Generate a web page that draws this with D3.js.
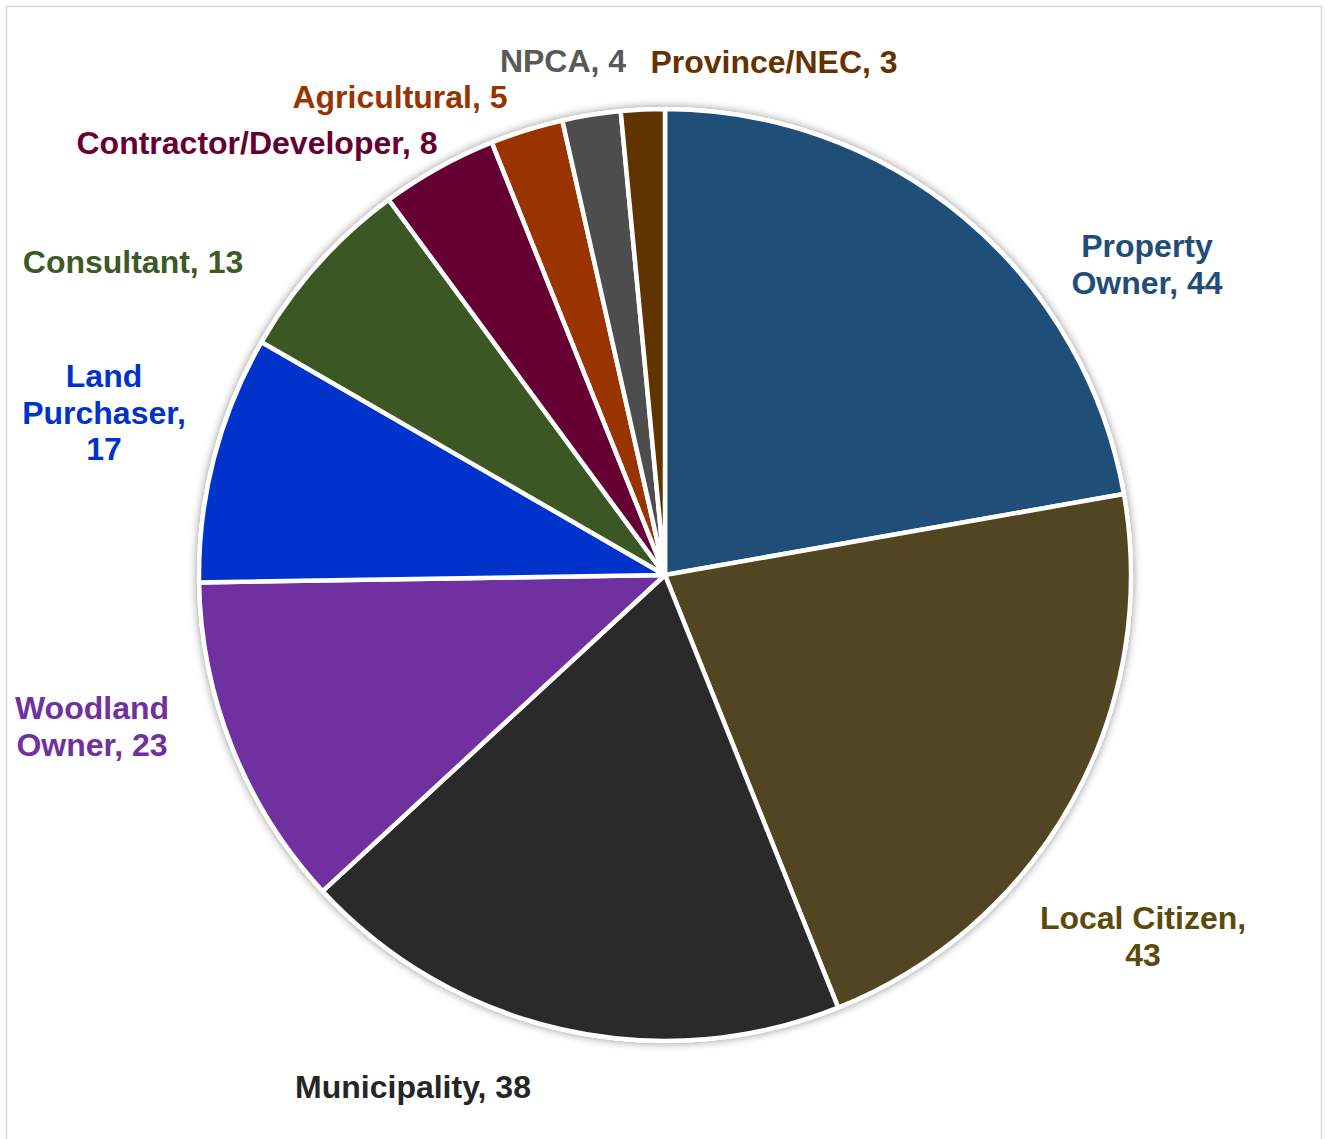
<!DOCTYPE html>
<html lang="en">
<head>
<meta charset="UTF-8" />
<title>Client Types</title>
<script src="https://cdn.jsdelivr.net/npm/d3@7"></script>
<style>
  html, body { margin: 0; padding: 0; background: #fff; }
  svg { display: block; }
  .lbl { font-family: "Liberation Sans", Arial, sans-serif; font-weight: bold; font-size: 32px; }
</style>
</head>
<body>
<div id="chart"></div>
<script>
// data
const categories = ["Property Owner", "Local Citizen", "Municipality", "Woodland Owner", "Land Purchaser",
                    "Consultant", "Contractor/Developer", "Agricultural", "NPCA", "Province/NEC"];
const counts = [44, 43, 38, 23, 17, 13, 8, 5, 4, 3];
const sliceColors = ["#1F4E79", "#524522", "#2A2A2A", "#7030A0", "#0033CC",
                     "#3A5724", "#660033", "#993300", "#4D4D4D", "#603300"];
const textColors = ["#1F4E79", "#5C4A0A", "#262626", "#7030A0", "#0033CC",
                    "#3B5A26", "#660033", "#993300", "#595959", "#663300"];
// label text lines and where each label block sits
const labelLines = [["Property", "Owner, 44"], ["Local Citizen,", "43"], ["Municipality, 38"],
                    ["Woodland", "Owner, 23"], ["Land", "Purchaser,", "17"], ["Consultant, 13"],
                    ["Contractor/Developer, 8"], ["Agricultural, 5"], ["NPCA, 4"], ["Province/NEC, 3"]];
const labelPos = [[1147, 257], [1143, 929], [413, 1098], [92, 719], [104, 387],
                  [133, 273], [257, 154], [400, 108], [563, 72], [774, 73]];

const width = 1325, height = 1139;
const cx = 665, cy = 575, radius = 466;
const lineGap = 36.5;

const data = categories.map((c, i) => ({name: c, value: counts[i], i: i}));

const svg = d3.select("#chart").append("svg")
    .attr("width", width)
    .attr("height", height);

// frame
svg.append("rect")
    .attr("x", 6.5).attr("y", 6.5)
    .attr("width", 1315).attr("height", 1160)
    .attr("fill", "#fff")
    .attr("stroke", "#d9d9d9")
    .attr("stroke-width", 1.5);

// soft shadow under the pie
const defs = svg.append("defs");
const f = defs.append("filter").attr("id", "shadow")
    .attr("x", "-10%").attr("y", "-10%").attr("width", "120%").attr("height", "120%");
f.append("feGaussianBlur").attr("in", "SourceAlpha").attr("stdDeviation", 5);
f.append("feOffset").attr("dx", 0).attr("dy", 0).attr("result", "blur");
f.append("feComponentTransfer").append("feFuncA").attr("type", "linear").attr("slope", 0.45);
const m = f.append("feMerge");
m.append("feMergeNode");
m.append("feMergeNode").attr("in", "SourceGraphic");

const pie = d3.pie().value(d => d.value).sort(null);
const arc = d3.arc().innerRadius(0).outerRadius(radius);

const g = svg.append("g").attr("transform", `translate(${cx},${cy})`);

g.append("circle").attr("r", radius + 2).attr("fill", "#fff").attr("filter", "url(#shadow)");

g.selectAll("path.slice")
    .data(pie(data))
    .enter()
    .append("path")
    .attr("class", "slice")
    .attr("d", arc)
    .attr("fill", d => sliceColors[d.data.i])
    .attr("stroke", "#fff")
    .attr("stroke-width", 4.5)
    .attr("stroke-linejoin", "round");

// labels
const lbl = svg.selectAll("text.lbl")
    .data(data)
    .enter()
    .append("text")
    .attr("class", "lbl")
    .attr("text-anchor", "middle")
    .attr("fill", d => textColors[d.i]);

lbl.each(function(d) {
    const t = d3.select(this);
    labelLines[d.i].forEach((line, k) => {
        t.append("tspan")
            .attr("x", labelPos[d.i][0])
            .attr("y", labelPos[d.i][1] + k * lineGap)
            .text(line);
    });
});
</script>
</body>
</html>
